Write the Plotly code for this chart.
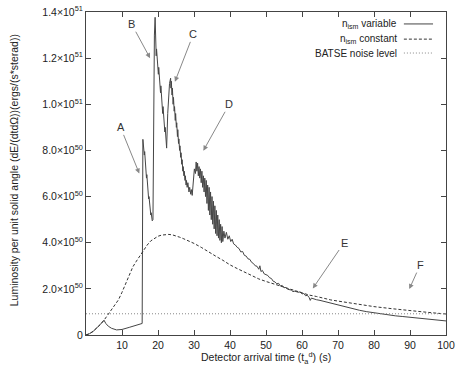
import plotly.graph_objects as go

# ---------------- data (luminosity in units of 1e50) ----------------
var_t = [0, 1, 2, 3, 4, 5, 5.5, 6.2, 7.1, 8.5, 10, 12, 14, 15.6,
         15.8, 15.9, 16.0, 16.2, 16.3, 16.5, 16.6, 16.8, 16.9, 17.1, 17.2, 17.4, 17.5,
         17.7, 17.8, 18.0, 18.1, 18.4, 18.6,
         18.8, 19.0, 19.2, 19.3, 19.4, 19.5, 19.6, 19.8, 19.9, 20.1, 20.2, 20.4, 20.5,
         20.7, 20.8, 21.0, 21.1, 21.3, 21.4, 21.6, 21.7, 21.9, 22.0, 22.2, 22.4,
         22.7, 23.0, 23.2, 23.5,
         23.6, 23.7, 23.9, 24.0, 24.2, 24.3, 24.5, 24.6, 24.8, 24.9, 25.1, 25.2, 25.4,
         25.5, 25.7, 25.8, 26.0, 26.1, 26.3, 26.4, 26.6, 26.7, 26.9, 27.0, 27.2, 27.3,
         27.5, 27.6, 27.8, 27.9, 28.1, 28.3, 28.6, 28.8, 29.1, 29.3, 29.5,
         29.8, 30.1, 30.4, 30.6,
         30.8, 31.0, 31.2, 31.4, 31.6, 31.8, 32.0, 32.2, 32.4, 32.6, 32.8, 33.0, 33.2,
         33.4, 33.6, 33.8, 34.0, 34.2, 34.4, 34.6, 34.8, 35.0, 35.2, 35.4, 35.6, 35.8,
         36.0, 36.2, 36.4, 36.6, 36.8, 37.0, 37.2, 37.4, 37.6, 37.8, 38.0, 38.3, 38.6,
         39.0, 39.4, 39.8, 40.2, 40.6, 41.0, 41.5, 42.0, 42.5, 43.0, 43.5, 44.0, 44.5,
         45.0, 45.5, 46.0, 46.5, 47.0, 47.5, 48.0, 48.3, 48.6, 49.0, 49.5, 50.0, 50.5,
         51.0, 51.5, 52.0, 52.5, 53.0, 53.5, 54.0, 54.5, 55.0, 55.5, 56.0, 57.0, 57.5,
         58.0, 59.0, 59.5, 60.0, 60.5, 61.0, 61.5, 62.0, 62.3, 62.6, 63.0, 64.0, 65.0,
         66.0, 68.0, 70.0, 72.0, 74.0, 76.0, 78.0, 80.0, 82.0, 84.0, 86.0, 88.0, 90.0,
         92.0, 94.0, 96.0, 98.0, 100.0]
var_L = [0, 0.06, 0.16, 0.30, 0.46, 0.64, 0.50, 0.38, 0.29, 0.22, 0.24, 0.33, 0.42, 0.50,
         8.48, 8.2, 8.35, 7.8, 7.95, 7.3, 7.45, 6.8, 6.95, 6.3, 6.45, 5.9, 6.0,
         5.5, 5.65, 5.2, 5.3, 4.95, 5.0,
         12.5, 13.0, 13.77, 12.6, 13.1, 12.1, 12.4, 11.7, 12.0, 11.3, 11.6, 10.9, 11.2,
         10.5, 10.8, 10.0, 10.3, 9.6, 9.9, 9.2, 9.5, 8.8, 9.0, 8.3, 8.1,
         9.6, 10.4, 10.9, 11.13,
         10.7, 11.0, 10.4, 10.7, 10.0, 10.3, 9.7, 9.9, 9.3, 9.6, 9.0, 9.2, 8.6,
         8.9, 8.3, 8.5, 8.0, 8.2, 7.7, 7.9, 7.4, 7.6, 7.1, 7.3, 6.9, 7.1,
         6.7, 6.9, 6.5, 6.7, 6.4, 6.6, 6.2, 6.4, 6.1, 6.3, 6.05,
         6.7, 7.2, 7.0, 7.5,
         7.1, 7.45, 6.9, 7.3, 6.8, 7.2, 6.6, 7.1, 6.4, 6.9, 6.2, 6.8, 6.0,
         6.7, 5.7, 6.5, 5.4, 6.4, 5.2, 6.2, 5.0, 6.0, 4.8, 5.8, 4.6, 5.6,
         4.4, 5.4, 4.3, 5.2, 4.2, 5.0, 4.1, 4.8, 4.0, 4.7, 4.05, 4.5, 4.2,
         4.45, 4.15, 4.3, 4.05, 4.15, 3.95, 3.9, 3.8, 3.75, 3.6, 3.62, 3.45, 3.42,
         3.3, 3.28, 3.15, 3.1, 3.0, 2.98, 2.85, 3.0, 2.75, 2.8, 2.65, 2.6, 2.58,
         2.48, 2.45, 2.33, 2.3, 2.22, 2.24, 2.12, 2.15, 2.05, 2.06, 1.98, 1.95, 1.88,
         1.9, 1.85, 1.87, 1.78, 1.8, 1.7, 1.72, 1.62, 1.5, 1.6, 1.57, 1.53, 1.5,
         1.46, 1.38, 1.29, 1.21, 1.14, 1.07, 1.01, 0.96, 0.91, 0.87, 0.83, 0.80, 0.77,
         0.73, 0.70, 0.67, 0.64, 0.61]

const_t = [0, 1, 2, 3, 4, 5, 6, 7, 8, 9, 10, 11, 12, 13, 14, 15, 16, 17, 18, 19, 20,
           21, 22, 23, 24, 25, 26, 27, 28, 29, 30, 32, 34, 36, 38, 40, 42, 44, 46, 48,
           50, 52, 54, 56, 58, 60, 62, 64, 66, 68, 70, 72, 75, 78, 80, 85, 90, 95, 100]
const_L = [0, 0.06, 0.16, 0.30, 0.46, 0.64, 0.85, 1.1, 1.3, 1.52, 1.85, 2.2, 2.6, 2.95,
           3.2, 3.45, 3.7, 3.9, 4.08, 4.2, 4.28, 4.33, 4.36, 4.36, 4.34, 4.3, 4.24, 4.18,
           4.12, 4.05, 3.97, 3.8, 3.6, 3.42, 3.24, 3.04, 2.88, 2.72, 2.57, 2.43, 2.32,
           2.22, 2.1, 2.0, 1.9, 1.81, 1.73, 1.67, 1.59, 1.52, 1.47, 1.42, 1.34, 1.27,
           1.23, 1.14, 1.05, 0.98, 0.91]

noise_t = [0, 100]
noise_L = [0.92, 0.92]

SCALE = 1e50

y_tickvals = [0, 2e50, 4e50, 6e50, 8e50, 1.0e51, 1.2e51, 1.4e51]
y_ticktext = ["0", "2.0×10<sup>50</sup>", "4.0×10<sup>50</sup>", "6.0×10<sup>50</sup>",
              "8.0×10<sup>50</sup>", "1.0×10<sup>51</sup>", "1.2×10<sup>51</sup>",
              "1.4×10<sup>51</sup>"]
x_tickvals = [10, 20, 30, 40, 50, 60, 70, 80, 90, 100]

# labelled arrows: (label, tip_x, tip_y, label_x, label_y)  (y in 1e50)
arrow_labels = ["A", "B", "C", "D", "E", "F"]
arrow_tip_x = [14.8, 17.8, 24.7, 32.6, 63.0, 89.8]
arrow_tip_y = [7.0, 12.0, 10.98, 7.99, 2.02, 1.99]
arrow_lab_x = [9.6, 12.7, 29.8, 39.8, 71.7, 92.8]
arrow_lab_y = [9.0, 13.47, 13.03, 10.0, 4.0, 3.03]

legend_names = ["n<sub>ism</sub> variable", "n<sub>ism</sub> constant", "BATSE noise level"]

FONT = "Liberation Sans, Arial, Helvetica, sans-serif"
C_VAR = "#454545"
C_CONST = "#333333"
C_NOISE = "#888888"

fig = go.Figure()
fig.add_trace(go.Scatter(x=var_t, y=[v * SCALE for v in var_L], mode="lines",
                         line=dict(color=C_VAR, width=1), name=legend_names[0]))
fig.add_trace(go.Scatter(x=const_t, y=[v * SCALE for v in const_L], mode="lines",
                         line=dict(color=C_CONST, width=1, dash="3px,2px"),
                         name=legend_names[1]))
fig.add_trace(go.Scatter(x=noise_t, y=[v * SCALE for v in noise_L], mode="lines",
                         line=dict(color=C_NOISE, width=1, dash="1px,2px"),
                         name=legend_names[2]))

annotations = []
for lab, tx, ty, lx, ly in zip(arrow_labels, arrow_tip_x, arrow_tip_y, arrow_lab_x, arrow_lab_y):
    annotations.append(dict(x=tx, y=ty * SCALE, ax=lx, ay=ly * SCALE, xref="x", yref="y",
                            axref="x", ayref="y", text=lab, showarrow=True,
                            arrowhead=2, arrowsize=1, arrowwidth=1, arrowcolor="#888888",
                            font=dict(family=FONT, size=11, color="#333333"), standoff=0))

# legend (gnuplot style: text right-aligned, sample to its right)
leg_y = [0.963, 0.916, 0.873]
leg_styles = [dict(color=C_VAR, width=1), dict(color=C_CONST, width=1, dash="3px,2px"),
              dict(color=C_NOISE, width=1, dash="1px,2px")]
shapes = []
for name, yy, st in zip(legend_names, leg_y, leg_styles):
    annotations.append(dict(x=0.869, y=yy, xref="paper", yref="paper", text=name,
                            showarrow=False, xanchor="right", yanchor="middle",
                            font=dict(family=FONT, size=10, color="#222222")))
    shapes.append(dict(type="line", xref="paper", yref="paper", x0=0.883, x1=0.964,
                       y0=yy, y1=yy, line=st))

# axis titles
annotations.append(dict(x=-0.2, y=0.51, xref="paper", yref="paper",
                        text="Luminosity per unit solid angle (dE/(dtdΩ))(ergs/(s*sterad))",
                        textangle=-90, showarrow=False, xanchor="center", yanchor="middle",
                        font=dict(family=FONT, size=10.5, color="#222222")))
annotations.append(dict(x=0.5, y=-0.072, xref="paper", yref="paper",
                        text="Detector arrival time (t<sub>a</sub><sup>d</sup>) (s)",
                        showarrow=False, xanchor="center", yanchor="middle",
                        font=dict(family=FONT, size=10.5, color="#222222")))

fig.update_layout(
    template="none",
    width=463, height=373, autosize=False,
    margin=dict(l=86, r=17, t=12, b=38, pad=0),
    plot_bgcolor="white", paper_bgcolor="white",
    showlegend=False,
    hovermode=False,
    font=dict(family=FONT, size=10, color="#222222"),
    annotations=annotations, shapes=shapes,
    xaxis=dict(range=[0, 100], tickvals=x_tickvals, ticks="inside", ticklen=5,
               tickcolor="#444444", showline=True, linecolor="#444444", linewidth=1,
               mirror="ticks", showgrid=False, zeroline=False, automargin=False,
               ticklabeloverflow="allow",
               tickfont=dict(family=FONT, size=10.5, color="#222222")),
    yaxis=dict(range=[0, 1.4e51], tickvals=y_tickvals, ticktext=y_ticktext,
               ticks="inside", ticklen=5, tickcolor="#444444", showline=True,
               linecolor="#444444", linewidth=1, mirror="ticks", showgrid=False,
               zeroline=False, automargin=False, ticklabeloverflow="allow",
               tickfont=dict(family=FONT, size=10.5, color="#222222")),
)

# remove the default 8px page margin so the figure fills the 463x373 window exactly
fig.write_html("out.html", config={"displayModeBar": False},
               post_script="document.body.style.margin='0';")
